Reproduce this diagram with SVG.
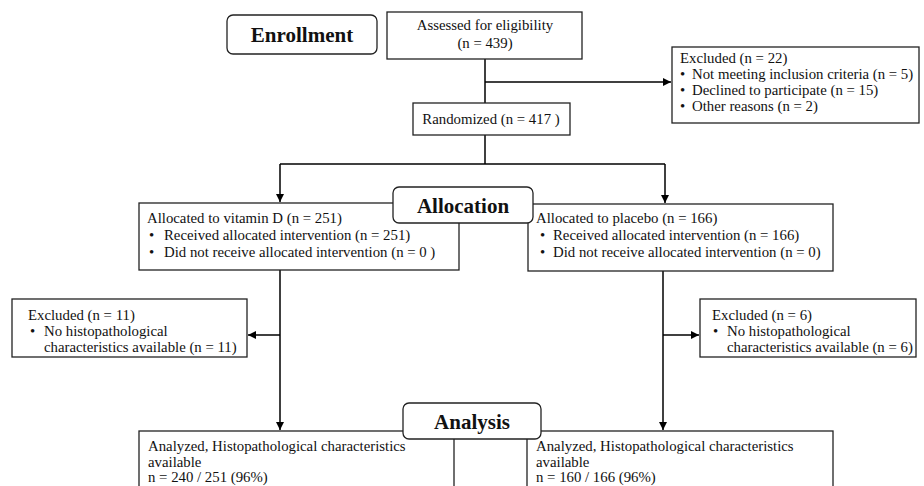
<svg xmlns="http://www.w3.org/2000/svg" width="924" height="486" viewBox="0 0 924 486">
<style>
.box{fill:#fff;stroke:#222;stroke-width:1.3}
.stage{fill:#fff;stroke:#222;stroke-width:1.3}
.ln{fill:none;stroke:#000;stroke-width:1.5}
text{font-family:"Liberation Serif","Times New Roman",serif;font-size:14.8px;fill:#111}
.h{font-weight:bold;font-size:21px;text-anchor:middle}
.c{text-anchor:middle}
</style>
<defs>
<marker id="ar" viewBox="0 0 10 10" refX="10" refY="5" markerWidth="8" markerHeight="8" markerUnits="userSpaceOnUse" orient="auto">
<path d="M0,0 L10,5 L0,10 z" fill="#000"/>
</marker>
</defs>
<rect width="924" height="486" fill="#fff"/>
<g id="connectors">
<path class="ln" d="M485,59 V103"/>
<path class="ln" d="M485,82 H671" marker-end="url(#ar)"/>
<path class="ln" d="M485,135 V164"/>
<path class="ln" d="M280,164 H665"/>
<path class="ln" d="M280,164 V202" marker-end="url(#ar)"/>
<path class="ln" d="M665,164 V203" marker-end="url(#ar)"/>
<path class="ln" d="M280,270 V430" marker-end="url(#ar)"/>
<path class="ln" d="M280,335 H248" marker-end="url(#ar)"/>
<path class="ln" d="M663,271 V430" marker-end="url(#ar)"/>
<path class="ln" d="M663,335 H699" marker-end="url(#ar)"/>
</g>
<g id="enrollment">
<rect class="stage" x="227" y="15" width="150" height="39" rx="6"/>
<text class="h" x="302" y="42">Enrollment</text>
</g>
<g id="assessed">
<rect class="box" x="387" y="12" width="195" height="47"/>
<text class="c" x="485" y="30">Assessed for eligibility</text>
<text class="c" x="485" y="48">(n = 439)</text>
</g>
<g id="excluded-enroll">
<rect class="box" x="672" y="47" width="247" height="76"/>
<text x="680" y="63">Excluded  (n = 22)</text>
<text x="680" y="79">•</text><text x="692" y="79">Not meeting inclusion criteria (n = 5)</text>
<text x="680" y="95">•</text><text x="692" y="95">Declined to participate (n = 15)</text>
<text x="680" y="111">•</text><text x="692" y="111">Other reasons (n = 2)</text>
</g>
<g id="randomized">
<rect class="box" x="413" y="103" width="157" height="32"/>
<text class="c" x="491" y="124">Randomized (n = 417 )</text>
</g>
<g id="vitd">
<rect class="box" x="139" y="203" width="320" height="67"/>
<text x="147" y="223">Allocated to vitamin D (n = 251)</text>
<text x="149" y="240">•</text><text x="164" y="240">Received allocated intervention (n = 251)</text>
<text x="149" y="257">•</text><text x="164" y="257">Did not receive allocated intervention (n = 0 )</text>
</g>
<g id="placebo">
<rect class="box" x="528" y="204" width="305" height="67"/>
<text x="536" y="223">Allocated to placebo (n = 166)</text>
<text x="540" y="240">•</text><text x="553" y="240">Received allocated intervention (n = 166)</text>
<text x="540" y="257">•</text><text x="553" y="257">Did not receive allocated intervention (n = 0)</text>
</g>
<g id="allocation">
<rect class="stage" x="393" y="187" width="140" height="36" rx="6"/>
<text class="h" x="463" y="213">Allocation</text>
</g>
<g id="excluded-vitd">
<rect class="box" x="12" y="299" width="235" height="58"/>
<text x="28" y="320">Excluded (n = 11)</text>
<text x="30" y="336">•</text><text x="44" y="336">No histopathological</text>
<text x="44" y="352">characteristics available (n = 11)</text>
</g>
<g id="excluded-placebo">
<rect class="box" x="700" y="299" width="216" height="58"/>
<text x="712" y="320">Excluded (n = 6)</text>
<text x="713" y="336">•</text><text x="727" y="336">No histopathological</text>
<text x="727" y="352">characteristics available (n = 6)</text>
</g>
<g id="analyzed-vitd">
<rect class="box" x="139" y="431" width="315" height="70"/>
<text x="148" y="451">Analyzed, Histopathological characteristics</text>
<text x="148" y="467">available</text>
<text x="148" y="482">n = 240 / 251 (96%)</text>
</g>
<g id="analyzed-placebo">
<rect class="box" x="527" y="431" width="306" height="70"/>
<text x="536" y="451">Analyzed, Histopathological characteristics</text>
<text x="536" y="467">available</text>
<text x="536" y="482">n = 160 / 166 (96%)</text>
</g>
<g id="analysis">
<rect class="stage" x="403" y="403" width="138" height="36" rx="6"/>
<text class="h" x="472" y="429">Analysis</text>
</g>
</svg>
